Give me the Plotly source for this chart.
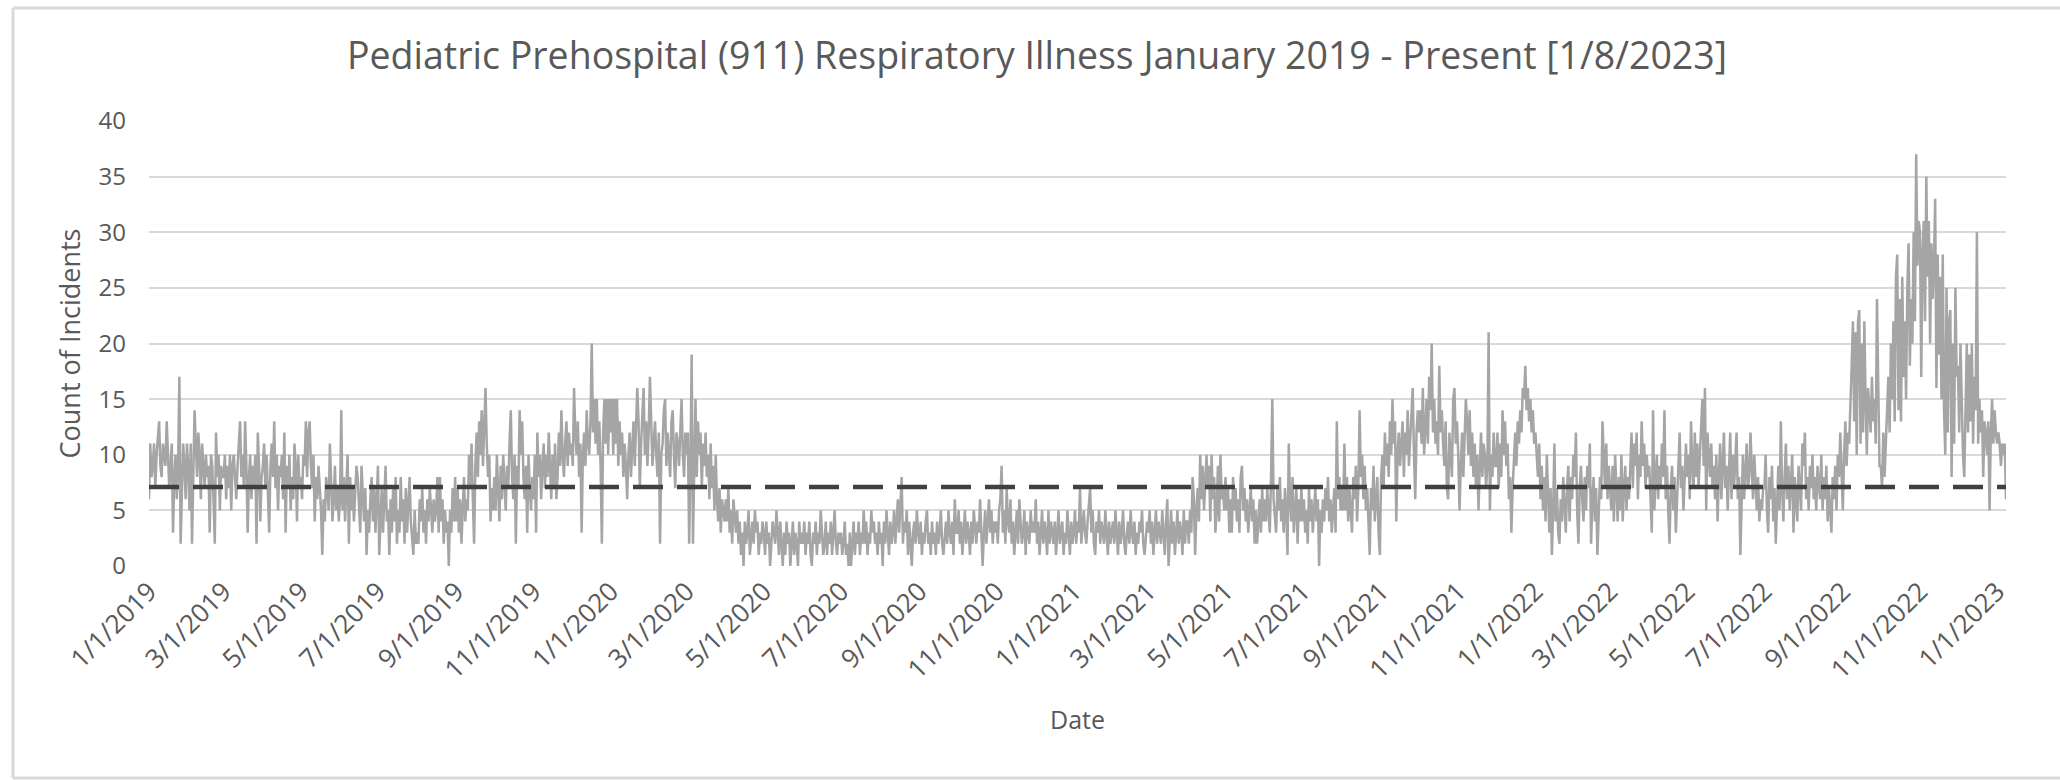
import pandas as pd
import plotly.graph_objects as go

title_text = "Pediatric Prehospital (911) Respiratory Illness January 2019 - Present [1/8/2023]"
start_date = "2019-01-01"
end_date = "2023-01-08"
baseline_value = 7.1

# daily counts, one row per month
counts_2019 = [
    6, 11, 8, 9, 11, 7, 10, 12, 13, 9, 8, 11, 10, 9, 13, 10, 7, 9, 11, 3, 8, 10, 6, 9, 17, 2, 7, 11, 9, 6, 11,
    9, 5, 11, 2, 10, 14, 11, 8, 12, 10, 6, 11, 9, 7, 10, 8, 9, 3, 10, 9, 6, 2, 12, 8, 10, 5, 9, 8,
    8, 10, 6, 9, 7, 10, 5, 9, 10, 8, 6, 9, 11, 13, 8, 10, 7, 13, 9, 3, 8, 10, 6, 9, 7, 10, 2, 12, 9, 4, 8,
    9, 11, 7, 10, 6, 3, 9, 11, 8, 13, 7, 10, 5, 9, 8, 10, 6, 12, 3, 9, 7, 10, 5, 8, 6, 11, 9, 4, 10, 7,
    8, 6, 10, 9, 13, 8, 12, 13, 9, 7, 10, 4, 8, 6, 9, 7, 5, 1, 6, 4, 8, 7, 5, 11, 8, 4, 6, 9, 5, 7, 4,
    6, 14, 5, 8, 4, 7, 10, 2, 8, 5, 7, 4, 6, 9, 8, 5, 3, 9, 6, 4, 7, 1, 5, 3, 6, 8, 4, 7, 3, 6,
    9, 1, 5, 7, 3, 6, 9, 4, 5, 1, 6, 3, 7, 4, 8, 2, 5, 3, 8, 4, 6, 2, 7, 3, 5, 8, 4, 2, 1, 5, 2,
    3, 2, 6, 4, 7, 3, 5, 2, 6, 4, 7, 5, 3, 6, 4, 5, 8, 3, 8, 4, 6, 2, 5, 3, 4, 0, 5, 3, 7, 4, 8,
    4, 7, 3, 6, 2, 5, 8, 4, 6, 5, 10, 7, 11, 6, 2, 9, 12, 8, 13, 10, 14, 9, 12, 16, 11, 8, 10, 4, 7, 5,
    8, 5, 10, 7, 4, 9, 6, 10, 8, 5, 9, 7, 11, 14, 8, 6, 10, 2, 9, 7, 14, 10, 13, 8, 6, 9, 3, 10, 7, 5, 8,
    6, 10, 3, 12, 8, 10, 6, 9, 11, 7, 10, 8, 12, 9, 6, 10, 7, 11, 6, 8, 12, 9, 14, 10, 8, 11, 13, 9, 12, 10,
    11, 9, 16, 12, 10, 13, 8, 11, 3, 10, 12, 9, 14, 11, 10, 13, 20, 12, 15, 11, 15, 10, 13, 9, 2, 12, 15, 11, 15, 10, 15,
]

counts_2020 = [
    12, 15, 10, 15, 11, 15, 9, 13, 10, 12, 8, 11, 9, 6, 10, 12, 8, 11, 13, 9, 12, 16, 13, 7, 11, 14, 16, 10, 13, 9, 12,
    17, 12, 9, 11, 13, 10, 8, 12, 2, 10, 11, 14, 15, 9, 12, 10, 8, 13, 14, 10, 7, 12, 11, 9, 13, 15, 10, 8, 12,
    10, 12, 2, 9, 19, 2, 11, 15, 8, 13, 10, 12, 7, 11, 9, 12, 8, 10, 6, 11, 7, 9, 5, 10, 6, 4, 7, 3, 6, 5, 4,
    6, 4, 7, 3, 5, 2, 6, 4, 3, 5, 2, 4, 1, 3, 0, 4, 2, 3, 5, 1, 3, 4, 2, 5, 3, 4, 1, 3, 2, 4,
    3, 1, 4, 2, 3, 0, 2, 4, 3, 2, 5, 3, 1, 4, 2, 0, 3, 1, 4, 2, 3, 0, 2, 4, 1, 3, 2, 0, 4, 2, 3,
    2, 4, 1, 3, 2, 4, 1, 0, 3, 2, 4, 1, 3, 2, 5, 3, 1, 2, 4, 1, 3, 2, 4, 1, 3, 5, 2, 1, 3, 2,
    3, 1, 2, 4, 1, 2, 0, 3, 0, 2, 4, 1, 3, 2, 4, 1, 3, 2, 5, 2, 4, 1, 3, 2, 5, 3, 4, 2, 3, 1, 4,
    2, 3, 0, 4, 2, 5, 3, 1, 4, 2, 3, 5, 2, 4, 6, 3, 5, 8, 2, 4, 3, 5, 1, 4, 2, 0, 3, 4, 2, 5, 3,
    2, 4, 1, 3, 2, 4, 5, 2, 3, 1, 4, 2, 3, 1, 4, 2, 3, 5, 2, 1, 3, 4, 2, 5, 3, 2, 4, 1, 6, 3,
    3, 5, 2, 4, 1, 3, 5, 2, 4, 3, 1, 4, 2, 5, 3, 2, 4, 3, 6, 2, 0, 3, 5, 2, 4, 6, 3, 5, 2, 4, 3,
    4, 2, 5, 6, 9, 3, 5, 2, 7, 4, 3, 6, 2, 4, 1, 3, 5, 2, 6, 4, 2, 3, 5, 1, 4, 3, 2, 5, 3, 4,
    3, 6, 2, 4, 1, 3, 5, 2, 4, 3, 1, 5, 2, 4, 3, 2, 4, 1, 3, 5, 2, 3, 4, 1, 3, 2, 5, 3, 1, 4, 2,
]

counts_2021 = [
    3, 5, 2, 4, 3, 7, 2, 4, 5, 3, 2, 4, 6, 7, 3, 5, 2, 1, 4, 3, 5, 2, 4, 3, 2, 5, 3, 1, 4, 2, 3,
    4, 2, 5, 3, 1, 4, 2, 3, 5, 2, 1, 3, 4, 2, 5, 3, 2, 4, 1, 3, 2, 4, 3, 5, 2, 1, 3, 4,
    3, 5, 2, 4, 1, 3, 5, 2, 4, 3, 2, 5, 3, 1, 4, 6, 0, 3, 5, 2, 4, 1, 3, 5, 2, 4, 3, 1, 5, 2, 4,
    4, 2, 5, 3, 8, 6, 1, 5, 7, 4, 10, 6, 9, 5, 8, 10, 7, 9, 4, 10, 6, 8, 3, 5, 9, 4, 10, 6, 7, 5,
    8, 5, 7, 3, 6, 3, 8, 5, 7, 4, 6, 3, 8, 9, 5, 7, 4, 6, 3, 5, 7, 4, 6, 2, 5, 2, 4, 6, 3, 7, 4,
    6, 4, 7, 5, 3, 8, 15, 6, 4, 3, 7, 5, 8, 4, 6, 3, 7, 5, 1, 11, 6, 4, 8, 3, 5, 7, 2, 6, 4, 7,
    4, 6, 3, 5, 2, 7, 4, 6, 3, 5, 7, 4, 6, 0, 5, 3, 6, 4, 7, 5, 8, 4, 6, 3, 5, 7, 3, 13, 6, 8, 5,
    7, 5, 11, 5, 8, 4, 7, 5, 3, 8, 6, 9, 4, 7, 14, 8, 10, 6, 9, 5, 7, 4, 1, 7, 5, 9, 4, 6, 8, 3, 1,
    8, 10, 7, 12, 9, 11, 8, 13, 10, 15, 11, 13, 4, 10, 12, 9, 11, 13, 8, 12, 10, 14, 9, 11, 13, 16, 10, 6, 12, 14,
    12, 14, 11, 16, 10, 13, 15, 11, 17, 14, 20, 12, 15, 11, 13, 10, 18, 12, 14, 11, 9, 13, 7, 6, 12, 10, 8, 15, 16, 11, 13,
    10, 5, 9, 12, 8, 11, 15, 13, 10, 14, 9, 12, 8, 11, 7, 10, 5, 9, 12, 8, 11, 10, 7, 9, 21, 5, 10, 8, 12, 9,
    9, 12, 7, 11, 8, 14, 10, 13, 9, 11, 6, 8, 3, 7, 10, 12, 9, 13, 11, 14, 12, 16, 15, 18, 14, 16, 13, 15, 12, 14, 11,
]

counts_2022 = [
    12, 10, 8, 11, 6, 9, 5, 8, 4, 10, 6, 3, 7, 1, 5, 11, 4, 7, 3, 2, 6, 4, 8, 5, 3, 7, 9, 4, 8, 6, 10,
    8, 12, 5, 2, 7, 9, 6, 4, 8, 5, 9, 7, 11, 2, 6, 8, 4, 7, 1, 5, 8, 6, 13, 10, 7, 11, 6, 9,
    7, 5, 9, 4, 10, 6, 4, 8, 5, 10, 4, 7, 9, 5, 8, 6, 10, 12, 7, 11, 9, 12, 6, 10, 8, 13, 9, 11, 7, 10, 8,
    9, 6, 3, 14, 5, 8, 10, 6, 9, 7, 11, 8, 14, 6, 9, 5, 2, 7, 9, 5, 8, 3, 6, 10, 12, 7, 9, 5, 8, 11,
    8, 10, 6, 13, 9, 7, 12, 8, 11, 7, 10, 13, 15, 9, 16, 5, 12, 10, 8, 11, 7, 9, 6, 10, 4, 8, 11, 6, 9, 12, 7,
    9, 5, 8, 12, 6, 10, 7, 9, 12, 6, 8, 1, 7, 10, 6, 9, 11, 7, 8, 12, 9, 6, 10, 7, 5, 8, 4, 6, 5, 7,
    7, 10, 5, 3, 8, 6, 9, 4, 7, 2, 6, 9, 5, 13, 7, 4, 8, 11, 6, 9, 5, 7, 10, 3, 8, 6, 4, 9, 7, 5, 11,
    9, 12, 6, 8, 5, 9, 7, 10, 6, 8, 5, 9, 7, 6, 10, 5, 8, 6, 9, 4, 7, 5, 3, 8, 6, 9, 5, 10, 8, 12, 9,
    5, 10, 13, 9, 12, 11, 14, 18, 22, 13, 21, 10, 22, 23, 11, 20, 12, 22, 15, 10, 16, 14, 12, 17, 13, 15, 11, 24, 14, 9,
    9, 7, 12, 8, 11, 14, 17, 12, 20, 15, 22, 13, 26, 28, 14, 24, 13, 26, 17, 22, 15, 25, 29, 18, 24, 20, 30, 22, 37, 27, 31,
    30, 17, 28, 31, 22, 35, 26, 31, 20, 29, 24, 27, 33, 16, 28, 19, 26, 15, 28, 14, 10, 25, 12, 22, 23, 8, 20, 11, 25, 17,
    18, 12, 20, 14, 10, 8, 15, 20, 12, 19, 13, 20, 11, 17, 14, 30, 11, 15, 12, 14, 8, 13, 12, 10, 13, 5, 12, 15, 11, 14, 12,
]

counts_2023 = [11, 12, 11, 9, 11, 10, 11, 6]

counts = counts_2019 + counts_2020 + counts_2021 + counts_2022 + counts_2023
dates = pd.date_range(start_date, periods=len(counts), freq="D")

font_name = "Open Sans"
text_grey = "#595959"

fig = go.Figure()

fig.add_trace(go.Scatter(x=dates, y=counts,
                         mode="lines",
                         name="Count",
                         line=dict(color="#A5A5A5", width=2.5),
                         showlegend=False))

fig.add_trace(go.Scatter(x=[dates[0], dates[-1]],
                         y=[baseline_value, baseline_value],
                         mode="lines",
                         name="Baseline",
                         line=dict(color="#404040", width=4.5, dash="30px,14px"),
                         showlegend=False))

fig.update_layout(
    width=2060,
    height=780,
    autosize=False,
    paper_bgcolor="white",
    plot_bgcolor="white",
    font=dict(family=font_name, color=text_grey, size=22),
    margin=dict(l=149, r=54, t=121, b=214),
    title=dict(text=title_text, x=1037 / 2060, xanchor="center",
               y=1 - 56 / 780, yanchor="middle", xref="container", yref="container",
               font=dict(family=font_name, size=37.5, color=text_grey)),
)

fig.update_xaxes(
    type="date",
    range=[start_date, end_date],
    tick0=start_date,
    dtick="M2",
    tickformat="%-m/%-d/%Y",
    tickangle=-45,
    showgrid=False,
    showline=False,
    zeroline=False,
    ticks="",
    ticklabelstandoff=4,
    tickfont=dict(size=26, color=text_grey),
    title=dict(text="Date", font=dict(size=25, color=text_grey), standoff=26),
)

fig.update_yaxes(
    range=[0, 40],
    dtick=5,
    showgrid=True,
    gridcolor="#D9D9D9",
    gridwidth=1.5,
    zeroline=False,
    showline=False,
    ticks="",
    ticklabelstandoff=22,
    tickfont=dict(size=24, color=text_grey),
    title=dict(text="Count of Incidents", font=dict(size=27, color=text_grey), standoff=10),
)

# outer chart frame: left, top and bottom edges, running out to the right edge of the figure
frame_left = (13 - 149) / 1857
frame_right = (2060 - 149) / 1857
frame_top = (566 - 8) / 445
frame_bottom = (566 - 778) / 445
frame_line = dict(color="#D9D9D9", width=3)
fig.add_shape(type="line", xref="paper", yref="paper", x0=frame_left, x1=frame_left,
              y0=frame_bottom, y1=frame_top, line=frame_line, layer="below")
fig.add_shape(type="line", xref="paper", yref="paper", x0=frame_left, x1=frame_right,
              y0=frame_top, y1=frame_top, line=frame_line, layer="below")
fig.add_shape(type="line", xref="paper", yref="paper", x0=frame_left, x1=frame_right,
              y0=frame_bottom, y1=frame_bottom, line=frame_line, layer="below")

fig.write_html("out.html", config={"displayModeBar": False},
               post_script="document.body.style.margin = '0'; document.body.style.overflow = 'hidden';")
